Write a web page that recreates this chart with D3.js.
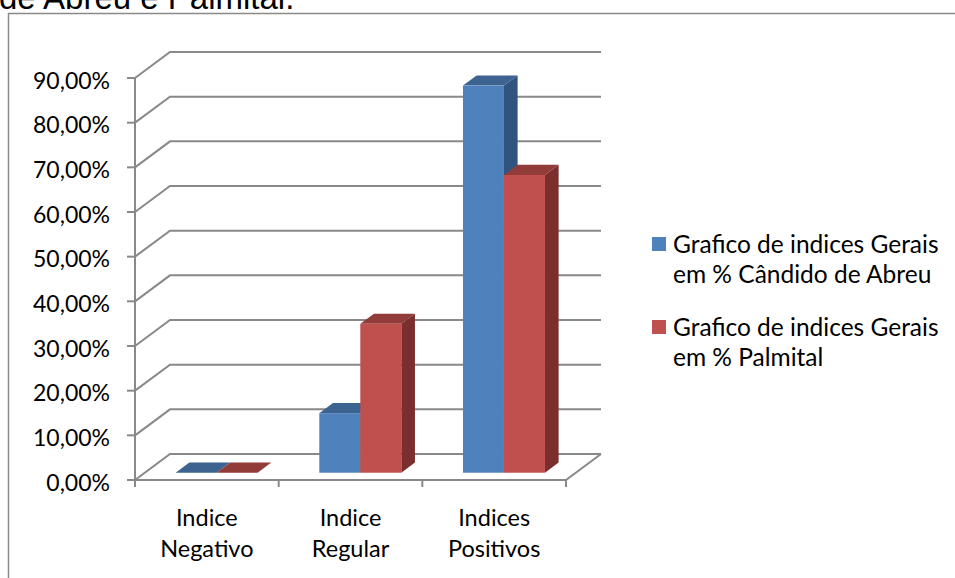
<!DOCTYPE html>
<html>
<head>
<meta charset="utf-8">
<script src="https://cdn.jsdelivr.net/npm/d3@7"></script>
<style>
  html, body { margin: 0; padding: 0; background: #fff; }
  svg { display: block; }
  text { font-family: Lato, "Open Sans", sans-serif; fill: #000; }
</style>
</head>
<body>
<svg id="chart" width="955" height="578"></svg>
<script>
// Categories, series and axis ticks
const categories = [["Indice", "Negativo"], ["Indice", "Regular"], ["Indices", "Positivos"]];
const seriesNames = [
  ["Grafico de indices Gerais", "em % Cândido de Abreu"],
  ["Grafico de indices Gerais", "em % Palmital"]
];
const candidoDeAbreu = [0, 0.1333, 0.8667];
const palmital = [0, 0.3333, 0.6667];
const yTicks = [0, 0.1, 0.2, 0.3, 0.4, 0.5, 0.6, 0.7, 0.8, 0.9];
const seriesValues = [candidoDeAbreu, palmital];

const palette = [
  { front: "#4F81BD", top: "#3D6390", side: "#31537F" },
  { front: "#C0504D", top: "#923C3A", side: "#7A2E2D" }
];

const svg = d3.select("#chart");
const fmt = v => d3.format(".2f")(v * 100).replace(".", ",") + "%";

// Heading line above the chart frame (continuation of the caption)
svg.append("text")
  .attr("x", -1).attr("y", 9)
  .style("font-family", "'Liberation Sans', Arial, sans-serif")
  .style("font-size", "33px")
  .text("de Abreu e Palmital.");

// Chart frame
svg.append("path")
  .attr("d", "M8.5,578 L8.5,13.5 L955,13.5")
  .attr("fill", "none").attr("stroke", "#8a8a8a").attr("stroke-width", 1.5);

// 3D geometry: front plane scales plus a depth offset for the back wall
const left = 135, right = 566;
const depth = { dx: 35, dy: -26 };
const barDepthFront = 0.28, barDepthBack = 0.67;

const x = d3.scaleBand().domain(d3.range(categories.length)).range([left, right]);
const y = d3.scaleLinear().domain([0, 0.9]).range([480, 78]);

const grid = svg.append("g")
  .attr("fill", "none").attr("stroke", "#898989").attr("stroke-width", 2);

// Back wall gridlines and side-wall diagonals
yTicks.forEach(t => {
  const yf = y(t);
  grid.append("path")
    .attr("d", `M${left},${yf} L${left + depth.dx},${yf + depth.dy} L${right + depth.dx},${yf + depth.dy}`);
});
// Floor front edge and right edge
grid.append("path").attr("d", `M${left},${y(0)} L${right},${y(0)} L${right + depth.dx},${y(0) + depth.dy}`);
// Vertical axis with tick marks
grid.append("path").attr("d", `M${left},${y(0.9)} L${left},${y(0)}`);
yTicks.forEach(t => {
  grid.append("path").attr("d", `M${left - 8},${y(t)} L${left},${y(t)}`);
});
// Category boundary ticks
d3.range(categories.length + 1).forEach(i => {
  const xx = left + i * x.bandwidth();
  grid.append("path").attr("d", `M${xx},${y(0)} L${xx},${y(0) + 7}`);
});

// Y tick labels
svg.append("g").selectAll("text").data(yTicks).join("text")
  .attr("x", 110).attr("y", d => y(d) + 10.5)
  .attr("text-anchor", "end")
  .style("font-size", "23px")
  .text(fmt);

// Bars: front, top and side faces
const barW = 41;
const fx = depth.dx * barDepthFront, fy = depth.dy * barDepthFront;
const bx = depth.dx * (barDepthBack - barDepthFront), by = depth.dy * (barDepthBack - barDepthFront);
const bars = svg.append("g");
categories.forEach((c, ci) => {
  const cx = x(ci) + x.bandwidth() / 2;
  seriesValues.forEach((vals, si) => {
    const v = vals[ci];
    const x0 = cx - barW + si * barW + fx;
    const x1 = x0 + barW;
    const yb = y(0) + fy;
    const yt = y(v) + fy;
    const col = palette[si];
    if (v > 0) {
      bars.append("path")
        .attr("d", `M${x1},${yt} L${x1 + bx},${yt + by} L${x1 + bx},${yb + by} L${x1},${yb} Z`)
        .attr("fill", col.side);
    }
    bars.append("path")
      .attr("d", `M${x0},${yt} L${x1},${yt} L${x1 + bx},${yt + by} L${x0 + bx},${yt + by} Z`)
      .attr("fill", col.top);
    if (v > 0) {
      bars.append("rect")
        .attr("x", x0).attr("y", yt).attr("width", barW).attr("height", yb - yt)
        .attr("fill", col.front);
    }
  });
});

// Category labels
const catG = svg.append("g");
categories.forEach((lines, i) => {
  const t = catG.append("text")
    .attr("x", x(i) + x.bandwidth() / 2).attr("y", 526)
    .attr("text-anchor", "middle").style("font-size", "23.5px");
  lines.forEach((ln, k) => t.append("tspan")
    .attr("x", x(i) + x.bandwidth() / 2).attr("y", 526 + k * 31).text(ln));
});

// Legend
const legend = svg.append("g");
seriesNames.forEach((lines, i) => {
  const top = 237 + i * 83;
  legend.append("rect")
    .attr("x", 652).attr("y", top).attr("width", 14).attr("height", 14)
    .attr("fill", palette[i].front);
  const t = legend.append("text").style("font-size", "24.5px");
  lines.forEach((ln, k) => t.append("tspan")
    .attr("x", 673).attr("y", top + 16 + k * 30).text(ln));
});
</script>
</body>
</html>
